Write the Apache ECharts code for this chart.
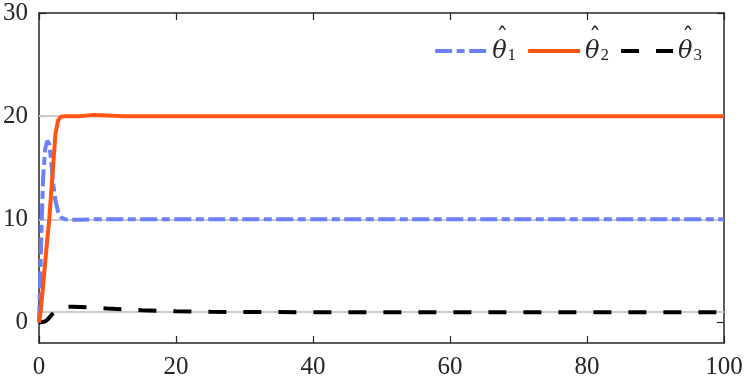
<!DOCTYPE html>
<html>
<head>
<meta charset="utf-8">
<script src="https://cdn.jsdelivr.net/npm/echarts@6/dist/echarts.min.js"></script>
<style>
  html, body { margin: 0; padding: 0; background: #fff; }
  #chart { width: 747px; height: 381px; }
</style>
</head>
<body>
<div id="chart"></div>
<script>
const T = [0, 0.2, 0.4, 0.6, 0.9, 1.2, 1.5, 1.8, 2.1, 2.4, 2.8, 3.2, 3.8, 5, 6, 8, 10, 12, 15, 20, 25, 30, 40, 60, 80, 100];
const THETA1 = [0, 5, 10, 14, 16.8, 17.6, 17.3, 15.5, 13.3, 11.8, 10.7, 10.2, 10.0, 9.95, 9.95, 10, 10, 10, 10, 10, 10, 10, 10, 10, 10, 10];
const THETA2 = [0, 0.8, 2.2, 3.6, 5.8, 8, 10, 12.8, 15.5, 18.3, 19.6, 19.95, 20, 20, 20, 20.1, 20.05, 20, 20, 20, 20, 20, 20, 20, 20, 20];
const THETA3 = [0, 0, 0.01, 0.03, 0.1, 0.25, 0.45, 0.7, 0.9, 1.1, 1.3, 1.42, 1.5, 1.52, 1.5, 1.44, 1.35, 1.28, 1.18, 1.07, 1.03, 1.0, 0.99, 0.99, 0.99, 0.99];
const TRUE_VALUES = [20, 10, 1];
const NAMES = ['θ̂1', 'θ̂2', 'θ̂3'];
const Y_TICKS = [0, 10, 20, 30];

const INK = '#262626';
const FONT = "'Liberation Serif', 'DejaVu Serif', serif";

const pairs = vals => T.map((t, i) => [t, vals[i]]);

const AXIS_LINE = { show: true, onZero: false, lineStyle: { color: INK, width: 1.5 } };
const TICK = { show: true, inside: true, length: 7, lineStyle: { color: INK, width: 1.2 } };

const c = echarts.init(document.getElementById('chart'), null, { renderer: 'canvas' });
c.setOption({
  animation: false,
  textStyle: { fontFamily: FONT, color: INK },
  grid: { left: 37, right: 23, top: 13, bottom: 38 },
  legend: {
    data: NAMES,
    right: 40, top: 22,
    itemWidth: 52, itemHeight: 20, itemGap: 10,
    itemStyle: { opacity: 0 },
    lineStyle: { width: 4, type: 'inherit' },
    // hat drawn on its own short line above the theta
    formatter: n => `{h|ˆ}\n{t|θ}{s|${n.slice(-1)}}`,
    textStyle: {
      rich: {
        h: { fontFamily: "'DejaVu Serif', serif", fontSize: 24, lineHeight: 1, color: INK, padding: [0, 0, 0, 4] },
        t: { fontFamily: "'DejaVu Serif', serif", fontStyle: 'italic', fontSize: 24, lineHeight: 24, color: INK },
        s: { fontFamily: FONT, fontSize: 17, lineHeight: 24, color: INK, padding: [8, 0, 0, 1] },
      },
    },
  },
  xAxis: [
    {
      type: 'value', min: 0, max: 100, interval: 20,
      axisLine: AXIS_LINE, axisTick: TICK, splitLine: { show: false },
      axisLabel: { color: INK, fontFamily: FONT, fontSize: 25, margin: 12 },
    },
    {
      type: 'value', position: 'top', min: 0, max: 100, interval: 20,
      axisLine: AXIS_LINE, axisTick: TICK, splitLine: { show: false },
      axisLabel: { show: false },
    },
  ],
  yAxis: [
    {
      type: 'value', min: -2, max: 30,
      axisLine: AXIS_LINE,
      axisTick: { ...TICK, customValues: Y_TICKS },
      splitLine: { show: false },
      axisLabel: { color: INK, fontFamily: FONT, fontSize: 25, margin: 11, customValues: Y_TICKS },
    },
    {
      type: 'value', position: 'right', min: -2, max: 30,
      axisLine: AXIS_LINE,
      axisTick: { ...TICK, customValues: Y_TICKS },
      splitLine: { show: false },
      axisLabel: { show: false },
    },
  ],
  series: [
    {
      name: 'ref', type: 'line', data: [], z: 1, silent: true,
      markLine: {
        z: 1, silent: true, symbol: 'none', label: { show: false },
        lineStyle: { color: '#cccccc', width: 1.8, type: 'solid' },
        data: TRUE_VALUES.map(v => ({ yAxis: v })),
      },
    },
    {
      name: NAMES[2], type: 'line', data: pairs(THETA3), showSymbol: false, symbol: 'none', z: 2,
      lineStyle: { color: '#000', width: 4, type: [18, 17] },
      itemStyle: { color: '#000' },
    },
    {
      name: NAMES[0], type: 'line', data: pairs(THETA1), showSymbol: false, symbol: 'none', z: 3,
      lineStyle: { color: '#6b80fa', width: 4, type: [17, 4.5, 8, 4.5] },
      itemStyle: { color: '#6b80fa' },
    },
    {
      name: NAMES[1], type: 'line', data: pairs(THETA2), showSymbol: false, symbol: 'none', z: 4,
      lineStyle: { color: '#ff5512', width: 4 },
      itemStyle: { color: '#ff5512' },
    },
  ],
});
</script>
</body>
</html>
